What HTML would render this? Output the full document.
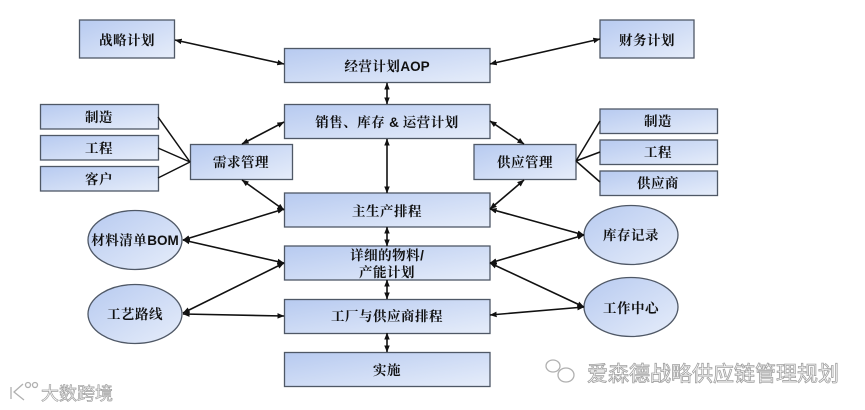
<!DOCTYPE html>
<html><head><meta charset="utf-8"><style>
html,body{margin:0;padding:0;background:#fff;width:865px;height:410px;overflow:hidden}
svg{display:block}
.t{font-family:"Liberation Serif","Noto Serif CJK SC",serif;font-size:13.500px;font-weight:700;fill:#111;text-anchor:middle;letter-spacing:.5px}
.t tspan.l{font-family:"Liberation Sans",sans-serif;font-weight:700;letter-spacing:0}
.w{font-family:"Noto Sans CJK SC",sans-serif;fill:#fff;stroke:#a0a0a0;stroke-width:.7px}
</style></head><body>
<svg width="865" height="410" viewBox="0 0 865 410" xmlns="http://www.w3.org/2000/svg">
<defs>
<linearGradient id="g" x1="0" y1="0" x2="1" y2="1"><stop offset="0" stop-color="#b7caf0"/><stop offset="1" stop-color="#e6edfa"/></linearGradient>
<marker id="a" viewBox="0 0 10 8" refX="9.500" refY="4" markerWidth="7" markerHeight="6" markerUnits="userSpaceOnUse" orient="auto-start-reverse"><path d="M0 0L10 4L0 8z" fill="#111"/></marker>
</defs>
<g fill="url(#g)" stroke="#4f5866" stroke-width="1.300">
<rect x="79.500" y="20" width="95" height="38"/>
<rect x="600" y="20" width="94" height="38"/>
<rect x="284.500" y="48.500" width="205.500" height="34"/>
<rect x="284.500" y="104.500" width="205.500" height="34"/>
<rect x="190.500" y="144.500" width="102" height="35"/>
<rect x="474" y="144.500" width="102" height="35"/>
<rect x="40.500" y="104.500" width="118" height="24.500"/>
<rect x="40.500" y="135.500" width="118" height="24.500"/>
<rect x="40.500" y="166.500" width="118" height="24.500"/>
<rect x="600" y="109" width="117.500" height="24.500"/>
<rect x="600" y="140" width="117.500" height="24.500"/>
<rect x="600" y="171" width="117.500" height="24.500"/>
<rect x="284.500" y="193" width="205.500" height="34"/>
<rect x="284.500" y="246" width="205.500" height="34"/>
<rect x="284.500" y="299.500" width="205.500" height="34"/>
<rect x="284.500" y="352.500" width="205.500" height="34"/>
<ellipse cx="135" cy="240" rx="47" ry="29.500"/>
<ellipse cx="135" cy="314" rx="47" ry="29.500"/>
<ellipse cx="631" cy="235" rx="47" ry="29.500"/>
<ellipse cx="631" cy="307" rx="47" ry="29.500"/>
</g>
<g stroke="#111" stroke-width="1.600" fill="none">
<line x1="175" y1="40" x2="284" y2="64" marker-start="url(#a)" marker-end="url(#a)"/>
<line x1="490" y1="64" x2="600" y2="39" marker-start="url(#a)" marker-end="url(#a)"/>
<line x1="387" y1="83" x2="387" y2="104" marker-start="url(#a)" marker-end="url(#a)"/>
<line x1="387" y1="139" x2="387" y2="193" marker-start="url(#a)" marker-end="url(#a)"/>
<line x1="387" y1="227" x2="387" y2="246" marker-start="url(#a)" marker-end="url(#a)"/>
<line x1="387" y1="280" x2="387" y2="299" marker-start="url(#a)" marker-end="url(#a)"/>
<line x1="387" y1="333" x2="387" y2="352" marker-start="url(#a)" marker-end="url(#a)"/>
<line x1="242" y1="144" x2="284" y2="122" marker-start="url(#a)" marker-end="url(#a)"/>
<line x1="242" y1="180" x2="284" y2="210" marker-start="url(#a)" marker-end="url(#a)"/>
<line x1="524" y1="144" x2="490" y2="121" marker-start="url(#a)" marker-end="url(#a)"/>
<line x1="524" y1="180" x2="490" y2="209" marker-start="url(#a)" marker-end="url(#a)"/>
<line x1="183" y1="240" x2="284" y2="209" marker-start="url(#a)" marker-end="url(#a)"/>
<line x1="183" y1="240" x2="284" y2="263" marker-start="url(#a)" marker-end="url(#a)"/>
<line x1="183" y1="313" x2="284" y2="263" marker-start="url(#a)" marker-end="url(#a)"/>
<line x1="183" y1="314" x2="284" y2="316" marker-start="url(#a)" marker-end="url(#a)"/>
<line x1="584" y1="235" x2="490" y2="209" marker-start="url(#a)" marker-end="url(#a)"/>
<line x1="584" y1="235" x2="490" y2="263" marker-start="url(#a)" marker-end="url(#a)"/>
<line x1="584" y1="307" x2="490" y2="263" marker-start="url(#a)" marker-end="url(#a)"/>
<line x1="584" y1="307" x2="490" y2="315" marker-start="url(#a)" marker-end="url(#a)"/>
</g>
<g stroke="#111" stroke-width="1.500" fill="none">
<path d="M158 117L190 162M158 148L190 162M158 178L190 162"/>
<path d="M576 161L600 121M576 161L600 152M576 161L600 182"/>
</g>
<g class="t">
<text class="t" x="127" y="45">战略计划</text>
<text class="t" x="647" y="45">财务计划</text>
<text class="t" x="387" y="71">经营计划<tspan class="l">AOP</tspan></text>
<text class="t" x="387" y="127">销售、库存 <tspan class="l">&amp;</tspan> 运营计划</text>
<text class="t" x="241" y="167">需求管理</text>
<text class="t" x="525" y="167">供应管理</text>
<text class="t" x="99" y="122">制造</text>
<text class="t" x="99" y="153">工程</text>
<text class="t" x="99" y="184">客户</text>
<text class="t" x="658" y="126">制造</text>
<text class="t" x="658" y="157">工程</text>
<text class="t" x="658" y="188">供应商</text>
<text class="t" x="387" y="216">主生产排程</text>
<text class="t" x="387" y="260">详细的物料<tspan class="l">/</tspan></text>
<text class="t" x="387" y="277">产能计划</text>
<text class="t" x="387" y="321">工厂与供应商排程</text>
<text class="t" x="387" y="375">实施</text>
<text class="t" x="135" y="245">材料清单<tspan class="l">BOM</tspan></text>
<text class="t" x="135" y="319">工艺路线</text>
<text class="t" x="631" y="240">库存记录</text>
<text class="t" x="631" y="313">工作中心</text>
</g>
<text class="w" x="41" y="400" font-size="18">大数跨境</text>
<g fill="none" stroke="#b0b0b0" stroke-width="1.300">
<path d="M11 387V399M23 384L14 392L24 400"/>
<circle cx="28" cy="385" r="2.500"/><circle cx="35" cy="385" r="2.500"/>
<ellipse cx="553" cy="366" rx="7" ry="6"/><ellipse cx="566" cy="375" rx="8" ry="7"/>
</g>
<text class="w" x="587" y="381" font-size="21" style="stroke-width:.8px">爱森德战略供应链管理规划</text>
</svg>
</body></html>
